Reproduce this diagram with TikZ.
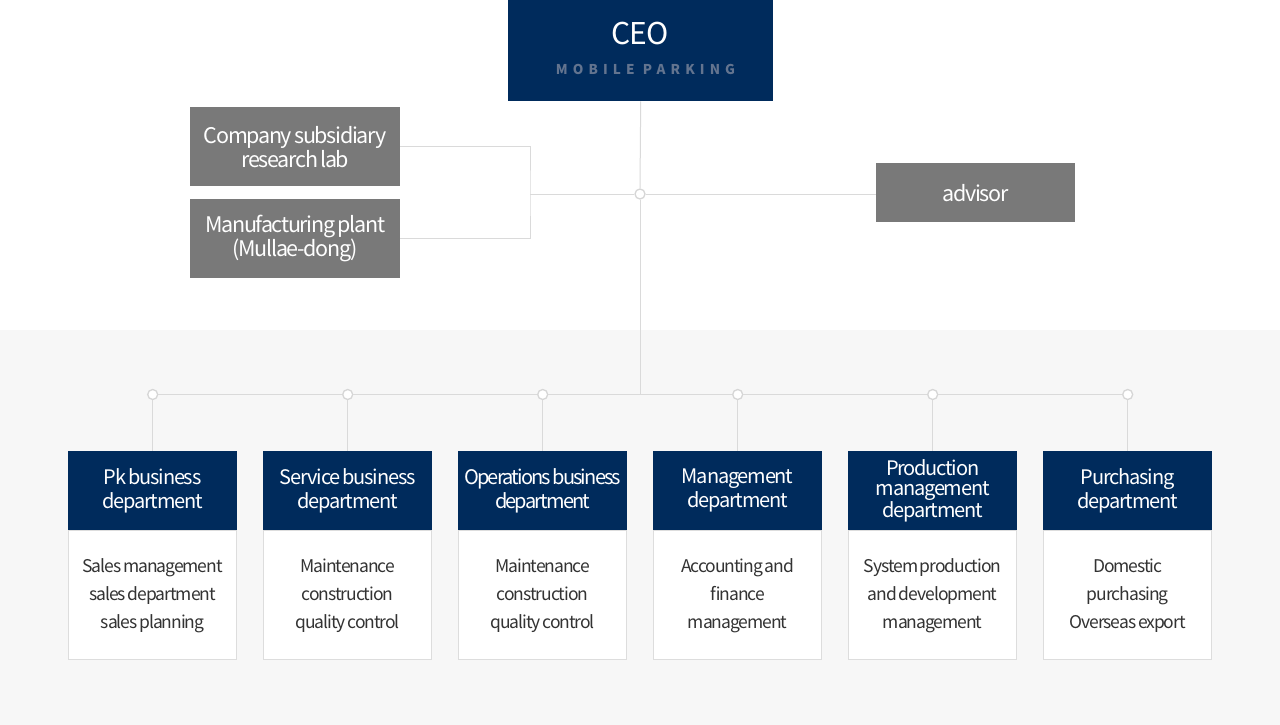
\documentclass[tikz,border=0pt]{standalone}
\usepackage{fontspec}
\setmainfont{Noto Sans CJK KR}[LetterSpace=-6, WordSpace=0.6]
\newfontfamily\spacedfont{Noto Sans CJK KR}[LetterSpace=38]
\newfontfamily\ceofont{Noto Sans CJK KR}[LetterSpace=-2]
\newfontfamily\tightfont{Noto Sans CJK KR}[LetterSpace=-9, WordSpace=0.5]
\definecolor{navy}{HTML}{002B5C}
\definecolor{boxgray}{HTML}{797979}
\definecolor{band}{HTML}{F7F7F7}
\definecolor{linec}{HTML}{DADADA}
\definecolor{dotc}{HTML}{D6D6D6}
\definecolor{bodyline}{HTML}{DDDDDD}
\definecolor{bodytext}{HTML}{333333}
\definecolor{mpcol}{HTML}{63748F}
\begin{document}
\begin{tikzpicture}[x=1pt,y=-1pt,
 conn/.style={draw=linec, line width=1pt},
 dot/.style={circle, draw=dotc, line width=1.3pt, fill=white, inner sep=0pt, minimum size=10pt},
 graybox/.style={rectangle, fill=boxgray, text=white, inner sep=0pt, minimum width=210pt, minimum height=79pt, align=center, font=\fontsize{21.5}{24}\selectfont, anchor=north west},
 head/.style={rectangle, fill=navy, text=white, inner sep=0pt, minimum width=169pt, minimum height=79pt, align=center, font=\fontsize{20}{24}\selectfont, anchor=north west},
 body/.style={rectangle, fill=white, draw=bodyline, line width=1pt, inner sep=0pt, minimum width=168pt, minimum height=129pt, align=center, text=bodytext, font=\fontsize{17.5}{28}\selectfont, anchor=north},
]
\useasboundingbox (0,0) rectangle (1280,725);
\fill[white] (0,0) rectangle (1280,725);
\fill[band] (0,330) rectangle (1280,725);

% CEO
\node[rectangle, fill=navy, inner sep=0pt, minimum width=265pt, minimum height=101pt, anchor=north west] (ceo) at (508,0) {};
\node[text=white, inner sep=0pt, font=\ceofont\fontsize{30}{30}\selectfont] (ceot) at (640,34) {CEO};
\node[text=mpcol, inner sep=0pt, font=\spacedfont\bfseries\fontsize{13.5}{14}\selectfont] (ceos) at (645.5,69) {MOBILE PARKING};

% side boxes
\node[graybox] (comp) at (190,107) {Company subsidiary\\research lab};
\node[graybox] (manu) at (190,199) {Manufacturing plant\\(Mullae-dong)};
\node[graybox, minimum width=199pt, minimum height=59pt] (adv) at (876,163) {advisor};

% hub
\node[dot] (hub) at (640,194) {};
\coordinate (busc) at (640,394.5);
\coordinate (brk) at (530,194);

% departments
\node[head] (h1) at (68,451) {Pk business\\department};
\node[head] (h2) at (263,451) {Service business\\department};
\node[head, font=\tightfont\fontsize{20}{24}\selectfont] (h3) at (458,451) {Operations business\\department};
\node[head] (h4) at (653,451) {Management\\department};
\node[head, font=\fontsize{20}{20}\selectfont] (h5) at (848,451) {Production\\management\\department};
\node[head] (h6) at (1043,451) {Purchasing\\department};

\node[body] (b1) at (h1.south) {Sales management\\sales department\\sales planning};
\node[body] (b2) at (h2.south) {Maintenance\\construction\\quality control};
\node[body] (b3) at (h3.south) {Maintenance\\construction\\quality control};
\node[body] (b4) at (h4.south) {Accounting and\\finance\\management};
\node[body] (b5) at (h5.south) {System production\\and development\\management};
\node[body] (b6) at (h6.south) {Domestic\\purchasing\\Overseas export};

\foreach \i in {1,...,6} {
  \node[dot] (d\i) at (h\i.north |- busc) {};
}

% connectors
\draw[conn] (ceo.south) -- (hub.north);
\draw[conn] (hub.south) -- (busc);
\draw[conn] (hub.east) -- (hub.east -| adv.west);
\draw[conn] (hub.west) -- (brk);
\draw[conn] (comp.east) -| (brk) |- (manu.east);
\draw[conn] (d1) -- (d2);
\draw[conn] (d2) -- (d3);
\draw[conn] (d3) -- (d4);
\draw[conn] (d4) -- (d5);
\draw[conn] (d5) -- (d6);
\foreach \i in {1,...,6} {
  \draw[conn] (d\i.south) -- (h\i.north);
}
\end{tikzpicture}
\end{document}
